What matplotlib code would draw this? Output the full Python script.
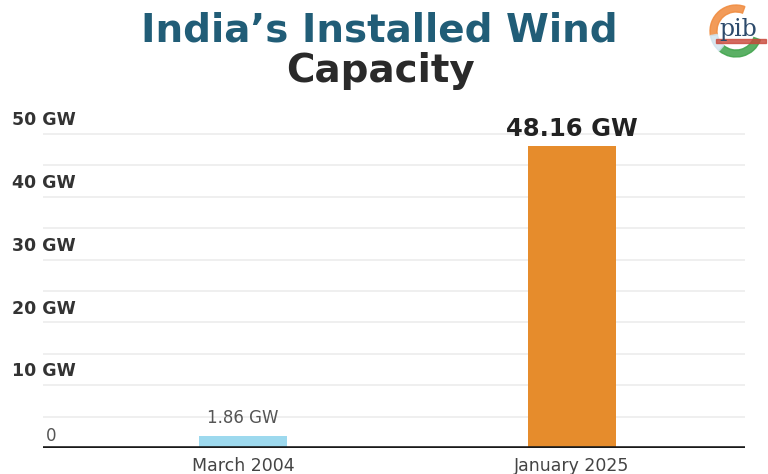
import matplotlib
matplotlib.use("Agg")
import matplotlib.pyplot as plt
import matplotlib.transforms as mtrans
from matplotlib.patches import Wedge, Rectangle

# ---- data ----
categories = ["March 2004", "January 2025"]
values = [1.86, 48.16]
value_labels = ["1.86 GW", "48.16 GW"]
bar_colors = ["#9dd9ee", "#e68c2c"]
y_ticks = [0, 10, 20, 30, 40, 50]
y_tick_labels = ["0", "10 GW", "20 GW", "30 GW", "40 GW", "50 GW"]
grid_values = [5, 10, 15, 20, 25, 30, 35, 40, 45, 50]

W, H = 768, 474
fig = plt.figure(figsize=(W / 100, H / 100), dpi=100)
fig.patch.set_facecolor("white")

# axes placement (pixels)
left_px, right_px = 43, 745
base_px = 448
top_val_px = 121.4  # y=52
ax = fig.add_axes([left_px / W, (H - base_px) / H,
                   (right_px - left_px) / W, (base_px - top_val_px) / H])
ax.set_xlim(-0.608, 1.526)
ax.set_ylim(0, 52)
for s in ax.spines.values():
    s.set_visible(False)
ax.set_yticks([])
ax.set_xticks([])

for g in grid_values:
    ax.axhline(g, color="#ececec", lw=1.2, zorder=0)

x = list(range(len(categories)))
ax.bar(x, values, width=0.267, color=bar_colors, zorder=2)
ax.axhline(0, color="#1a1a1a", lw=2.6, zorder=3)

# value labels
ax.text(x[0], values[0] + 1.5, value_labels[0], ha="center", va="bottom",
        fontsize=12, color="#555555", family="DejaVu Sans")
ax.text(x[1], values[1] + 0.7, value_labels[1], ha="center", va="bottom",
        fontsize=17.5, fontweight="bold", color="#222222", family="DejaVu Sans")

# category labels
for xi, c in zip(x, categories):
    ax.text(xi, -1.5, c, ha="center", va="top", fontsize=12.5,
            color="#444444", family="DejaVu Sans")

# y labels
trans = mtrans.blended_transform_factory(fig.transFigure, ax.transData)
for v, lab in zip(y_ticks, y_tick_labels):
    if v == 0:
        ax.text(46 / W, v + 1.9, lab, transform=trans, ha="left", va="center",
                fontsize=12, color="#555555")
    else:
        ax.text(12 / W, v + 2.2, lab, transform=trans, ha="left", va="center",
                fontsize=12.5, fontweight="bold", color="#333333")

# title
fig.text(379 / W, 1 - 31 / H, "India’s Installed Wind", ha="center", va="center",
         fontsize=28, fontweight="bold", color="#215d77")
fig.text(380 / W, 1 - 71 / H, "Capacity", ha="center", va="center",
         fontsize=28, fontweight="bold", color="#2a2a2a")

# logo (approximate)
lax = fig.add_axes([700 / W, 1 - 60 / H, 68 / W, 56 / H])
lax.set_xlim(0, 68)
lax.set_ylim(0, 56)
lax.set_aspect("equal")
lax.axis("off")
lax.add_patch(Wedge((36, 29), 26, 70, 190, width=7, color="#f08a3c", alpha=0.85))
lax.add_patch(Wedge((36, 29), 26, 230, 340, width=7, color="#3ea34a", alpha=0.85))
lax.add_patch(Wedge((36, 29), 26, 190, 230, width=7, color="#cfe3ee", alpha=0.8))
lax.text(38, 31, "pib", ha="center", va="center", fontsize=17,
         color="#2d4a6b", family="DejaVu Serif")
lax.add_patch(Rectangle((16, 17), 50, 4, color="#c9473a", alpha=0.8))

fig.savefig("out.png", dpi=100, facecolor="white")
